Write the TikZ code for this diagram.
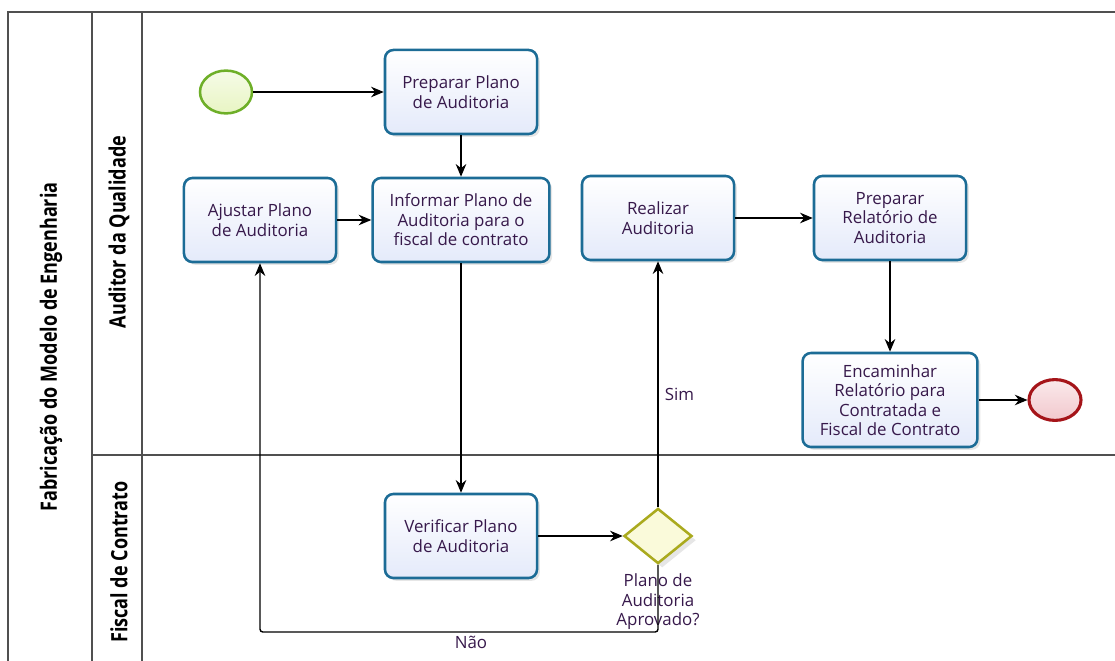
\documentclass[tikz,border=0pt]{standalone}
\usepackage{fontspec}
\setmainfont{Open Sans}
\usepackage{tikz}
\usetikzlibrary{shapes.geometric,arrows.meta,positioning,shadows}
\usepackage{xcolor}
\definecolor{taskline}{RGB}{28,108,150}
\definecolor{taskfill}{RGB}{228,234,250}
\definecolor{tasktext}{RGB}{55,25,75}
\definecolor{poolline}{RGB}{80,80,80}
\definecolor{startline}{RGB}{110,175,40}
\definecolor{startfill}{RGB}{232,245,195}
\definecolor{endline}{RGB}{165,20,25}
\definecolor{endfill}{RGB}{242,200,205}
\definecolor{gwline}{RGB}{170,170,30}
\definecolor{gwfill}{RGB}{250,250,218}

\begin{document}
\begin{tikzpicture}[x=0.025cm, y=-0.025cm,
    task/.style={draw=taskline, line width=1.8pt, rounded corners=6pt, minimum width=3.8cm, minimum height=2.1cm,
        align=center, font=\fontsize{12}{13.8}\selectfont, text=tasktext,
        top color=white, bottom color=taskfill,
        drop shadow={opacity=0.2, shadow xshift=2pt, shadow yshift=-2pt}},
    startev/.style={draw=startline, line width=1.8pt, ellipse, minimum width=1.3cm, minimum height=1.07cm,
        top color=startfill!40, bottom color=startfill},
    endev/.style={draw=endline, line width=2.2pt, ellipse, minimum width=1.3cm, minimum height=1.02cm,
        top color=endfill!40, bottom color=endfill},
    gway/.style={draw=gwline, line width=1.8pt, diamond, inner sep=0pt, minimum width=1.7cm, minimum height=1.38cm,
        fill=gwfill, drop shadow={opacity=0.2, shadow xshift=3pt, shadow yshift=-3pt}},
    lanetitle/.style={rotate=90, font=\fontsize{16}{18}\selectfont\bfseries},
    lbl/.style={font=\fontsize{12}{13.8}\selectfont, text=tasktext, align=center},
    arr/.style={-{Stealth[length=9pt,width=7.5pt]}, line width=1pt},
    pool/.style={draw=poolline, line width=1.2pt}
]
    \useasboundingbox (0,0) rectangle (1115,661);

    % pool and lanes
    \draw[pool] (1115,12) -- (8,12) -- (8,661);
    \draw[pool] (92,12) -- (92,661);
    \draw[pool] (142,12) -- (142,661);
    \draw[pool] (92,455) -- (1115,455);
    \node[lanetitle] (pooltitle) at (51,347) {\scalebox{0.8}[1]{Fabricação do Modelo de Engenharia}};
    \node[lanetitle] (auditor) at (119,232) {\scalebox{0.8}[1]{Auditor da Qualidade}};
    \node[lanetitle] (fiscal) at (119,562) {\scalebox{0.8}[1]{Fiscal de Contrato}};

    % flow objects
    \node[startev] (start) at (226,92) {};
    \node[task] (preparar) at (461,92) {Preparar Plano\\de Auditoria};
    \node[task] (ajustar) at (260,220) {Ajustar Plano\\de Auditoria};
    \node[task, minimum width=4.42cm] (informar) at (461,220) {Informar Plano de\\Auditoria para o\\fiscal de contrato};
    \node[task] (realizar) at (658,218) {Realizar\\Auditoria};
    \node[task] (relatorio) at (890,218) {Preparar\\Relatório de\\Auditoria};
    \node[task, minimum width=4.37cm, minimum height=2.35cm] (encaminhar) at (890,400) {Encaminhar\\Relatório para\\Contratada e\\Fiscal de Contrato};
    \node[endev] (fim) at (1055,400) {};
    \node[task] (verificar) at (461,536) {Verificar Plano\\de Auditoria};
    \node[gway] (gw) at (658,536) {};
    \node[lbl, below=3pt of gw] (gwlabel) {Plano de\\Auditoria\\Aprovado?};
    \coordinate (naoturn) at (658,632);

    % sequence flows
    \draw[arr] (gw) -- node[lbl, pos=0.46, right=1pt] (sim) {Sim} (realizar);
    \draw[arr, rounded corners=2pt] (gw.south) -- (naoturn) -| node[lbl, pos=0.235, below=-1pt] (nao) {Não} (ajustar.south);
    \draw[arr] (start) -- (preparar);
    \draw[arr] (preparar) -- (informar);
    \draw[arr] (ajustar) -- (informar);
    \draw[arr] (informar) -- (verificar);
    \draw[arr] (verificar) -- (gw);
    \draw[arr] (realizar) -- (relatorio);
    \draw[arr] (relatorio) -- (encaminhar);
    \draw[arr] (encaminhar) -- (fim);
\end{tikzpicture}
\end{document}
